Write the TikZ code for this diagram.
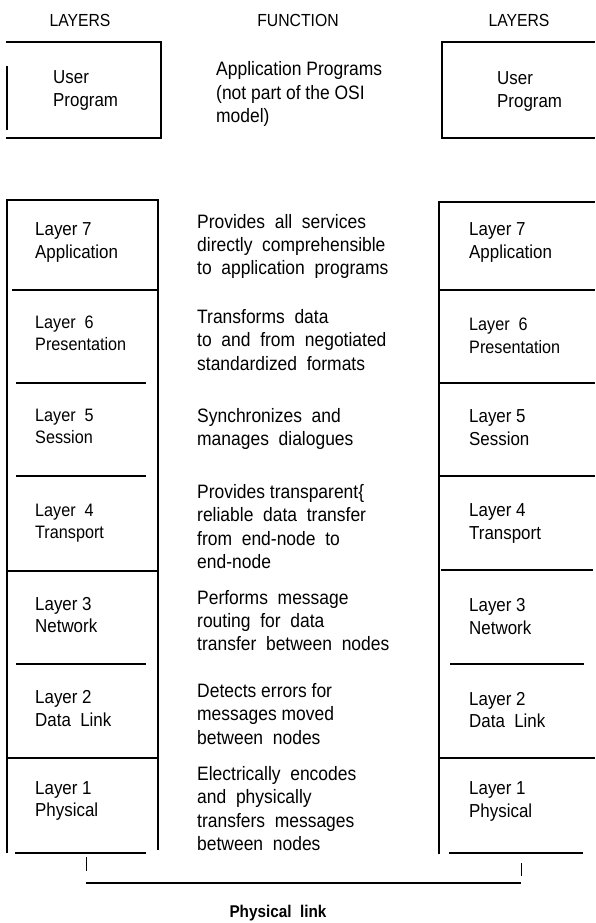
\documentclass[tikz,border=0pt]{standalone}
\usepackage{fontspec}
\setmainfont{Liberation Sans}[FakeStretch=0.9]
\begin{document}
\begin{tikzpicture}[x=1pt,y=-1pt]
\tikzset{
  rule/.style={line width=1.8pt},
  thinrule/.style={line width=1.2pt},
  tick/.style={line width=1pt},
  lbl/.style={anchor=west, inner sep=0pt, align=left, font=\fontsize{18.8}{22.5}\selectfont},
  lbls/.style={anchor=west, inner sep=0pt, align=left, font=\fontsize{18}{22.5}\selectfont},
  fn/.style={anchor=west, inner sep=0pt, align=left, font=\fontsize{19.4}{23.4}\selectfont},
  hdr/.style={inner sep=0pt, font=\fontsize{17.5}{19}\selectfont},
  linklbl/.style={inner sep=0pt, font=\bfseries\fontsize{17}{18}\selectfont},
}
\useasboundingbox[fill=white] (0,0) rectangle (595,923);

% headers
\node[hdr] (hL) at (80,20) {LAYERS};
\node[hdr] (hF) at (298,20) {FUNCTION};
\node[hdr] (hR) at (519,20) {LAYERS};

% user program boxes
\draw[rule] (6,42) -- (161,42) -- (161,138) -- (6,138);
\draw[rule] (7,66) -- (7,130);
\draw[rule] (595,42) -- (442,42) -- (442,138) -- (595,138);
\node[lbl] (uL) at (53,90.5) {User\\Program};
\node[lbl] (uR) at (497,91.5) {User\\Program};
\node[fn] (fU) at (216,94) {Application Programs\\(not part of the OSI\\model)};

% left stack
\draw[rule] (6,200) -- (159,200);
\draw[rule] (7,200) -- (7,853);
\draw[rule] (158,200) -- (158,850);
\draw[rule] (12,290) -- (157,290);
\draw[rule] (16,383) -- (146,383);
\draw[rule] (16,476) -- (146,476);
\draw[rule] (7,571) -- (157,571);
\draw[rule] (16,664) -- (146,664);
\draw[rule] (7,758) -- (157,758);
\draw[thinrule] (15,853) -- (146,853);

% right stack
\draw[rule] (595,202) -- (439,202) -- (439,854);
\draw[rule] (439,290) -- (595,290);
\draw[rule] (439,383) -- (595,383);
\draw[line width=2.4pt] (439,476) -- (595,476);
\draw[rule] (441,570) -- (593,570);
\draw[rule] (450,664) -- (584,664);
\draw[rule] (439,758) -- (595,758);
\draw[thinrule] (449,853) -- (583,853);

% left labels
\node[lbl]  (l7L) at (35,242.5) {Layer 7\\Application};
\node[lbls] (l6L) at (35,333.5) {Layer~ 6\\Presentation};
\node[lbls] (l5L) at (35,426.5) {Layer~ 5\\Session};
\node[lbls] (l4L) at (35,523) {Layer~ 4\\Transport};
\node[lbl]  (l3L) at (35,615) {Layer 3\\Network};
\node[lbl]  (l2L) at (35,708.5) {Layer 2\\Data~ Link};
\node[lbl]  (l1L) at (35,801) {Layer 1\\Physical};

% right labels
\node[lbl]  (l7R) at (469,242.5) {Layer 7\\Application};
\node[lbls] (l6R) at (469,336) {Layer~ 6\\Presentation};
\node[lbl]  (l5R) at (469,427.5) {Layer 5\\Session};
\node[lbl]  (l4R) at (469,523.5) {Layer 4\\Transport};
\node[lbl]  (l3R) at (469,616.5) {Layer 3\\Network};
\node[lbl]  (l2R) at (469,710) {Layer 2\\Data~ Link};
\node[lbl]  (l1R) at (469,801.5) {Layer 1\\Physical};

% functions
\node[fn] (f7) at (197,246.5) {Provides~ all~ services\\directly~ comprehensible\\to~ application~ programs};
\node[fn] (f6) at (197,340) {Transforms~ data\\to~ and~ from~ negotiated\\standardized~ formats};
\node[fn] (f5) at (197,429) {Synchronizes~ and\\manages~ dialogues};
\node[fn] (f4) at (197,526.5) {Provides transparent\{\\reliable~ data~ transfer\\from~ end-node~ to\\end-node};
\node[fn] (f3) at (197,620.5) {Performs~ message\\routing~ for~ data\\transfer~ between~ nodes};
\node[fn] (f2) at (197,714) {Detects errors for\\messages moved\\between~ nodes};
\node[fn] (f1) at (197,808.5) {Electrically~ encodes\\and~ physically\\transfers~ messages\\between~ nodes};

% physical link
\coordinate (tA) at (86,857);
\coordinate (tB) at (521,863);
\coordinate (pA) at (86,883);
\coordinate (pB) at (521,883);
\draw[tick] (tA) -- ++(0,14);
\draw[tick] (tB) -- ++(0,13);
\draw[rule] (pA) -- (pB);
\node[linklbl] (pl) at (278,913) {Physical~ link};
\end{tikzpicture}
\end{document}
